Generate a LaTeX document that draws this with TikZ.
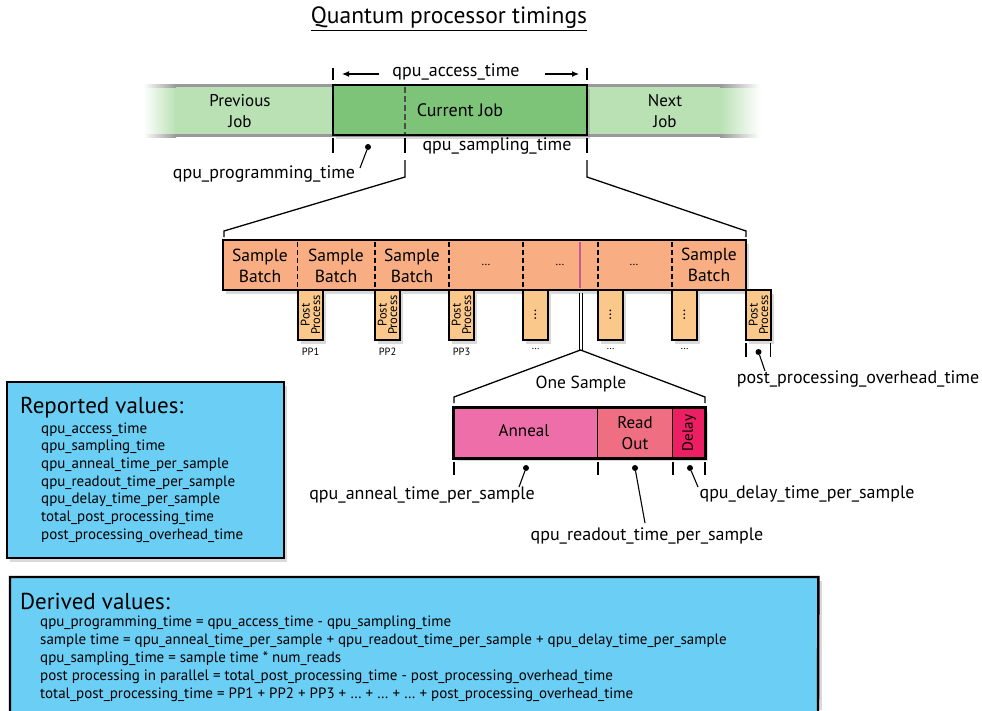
\documentclass[tikz,border=0pt]{standalone}
\usepackage{fontspec}
\usepackage{graphicx}
\setmainfont{PT Sans}
\usetikzlibrary{shadows,arrows.meta,calc}
\definecolor{bandgreen}{HTML}{B9E1B4}
\definecolor{jobgreen}{HTML}{7DC478}
\definecolor{batchorange}{HTML}{F8AD82}
\definecolor{ppfill}{HTML}{FBC88C}
\definecolor{annealpink}{HTML}{EE6EAA}
\definecolor{readpink}{HTML}{F06E82}
\definecolor{delayred}{HTML}{EC1E64}
\definecolor{infoblue}{HTML}{6ACEF5}
\definecolor{magline}{HTML}{C85A96}
\begin{document}
\begin{tikzpicture}[x=1pt,y=-1pt,
  lbl/.style={font=\fontsize{18}{21}\selectfont, inner sep=0pt},
  shad/.style={drop shadow={opacity=0.3, shadow xshift=3pt, shadow yshift=-4pt}},
  thickbox/.style={draw=black, line width=2.4pt, inner sep=0pt, outer sep=0pt},
  tickln/.style={line width=1.6pt},
  leader/.style={line width=1.1pt},
  bracketln/.style={line width=1.3pt},
  ldot/.style={circle, fill=black, inner sep=0pt, minimum size=6pt},
  ppb/.style={thickbox, fill=ppfill, minimum width=25pt, minimum height=50pt, shad},
  pptext/.style={rotate=90, align=center, font=\fontsize{12.5}{10.5}\selectfont, inner sep=0pt},
  pplab/.style={font=\fontsize{10.5}{10}\selectfont, inner sep=0pt},
  batchtxt/.style={align=center, font=\fontsize{17.5}{21}\selectfont, inner sep=0pt},
  divln/.style={line width=1.2pt, dash pattern=on 5pt off 3pt},
  reptxt/.style={font=\fontsize{15}{16}\selectfont, inner sep=0pt, anchor=base west},
  dertxt/.style={font=\fontsize{15}{16}\selectfont, inner sep=0pt, anchor=base west},
]
\useasboundingbox (0,0) rectangle (982,710);

% title
\node[font=\fontsize{23.5}{27}\selectfont, inner sep=0pt] (title) at (449,19) {\underline{Quantum processor timings}};

% job band
\shade[left color=white, right color=bandgreen] (143,85) rectangle (176,136);
\fill[bandgreen] (175,85) rectangle (721,136);
\shade[left color=bandgreen, right color=white] (720,85) rectangle (760,136);
\shade[left color=white, right color=gray!80] (143,84) rectangle (176,87);
\fill[gray!80] (175,84) rectangle (721,87);
\shade[left color=gray!80, right color=white] (720,84) rectangle (760,87);
\shade[left color=white, right color=gray!80] (143,134) rectangle (176,137);
\fill[gray!80] (175,134) rectangle (721,137);
\shade[left color=gray!80, right color=white] (720,134) rectangle (760,137);

\node[lbl, align=center, font=\fontsize{17}{21}\selectfont] (prev) at (240,111) {Previous\\Job};
\node[lbl, align=center, font=\fontsize{17}{21}\selectfont] (next) at (665,111) {Next\\Job};
\node[thickbox, fill=jobgreen, minimum width=254pt, minimum height=50pt, shad] (cur) at (460,110) {};
\node[lbl, font=\fontsize{18}{21}\selectfont] (curtxt) at (460,110) {Current Job};
\draw[gray!60!black, line width=1.3pt, dash pattern=on 6pt off 3pt] (cur.north west) ++(72,1.5) coordinate (dA) -- ($(cur.south west)+(72,-1.5)$) coordinate (dB);

% access time
\coordinate (aL1) at (333,68); \coordinate (aL2) at (333,80);
\coordinate (aR1) at (587,68); \coordinate (aR2) at (587,80);
\draw[tickln] (aL1) -- (aL2);
\draw[tickln] (aR1) -- (aR2);
\node[lbl] (acc) at (456,72) {qpu\_access\_time};
\coordinate (arrL0) at (379,74); \coordinate (arrL) at (342,74);
\coordinate (arrR0) at (545,74); \coordinate (arrR) at (579,74);
\draw[line width=1.2pt, -{Latex[length=7pt,width=6pt]}] (arrL0) -- (arrL);
\draw[line width=1.2pt, -{Latex[length=7pt,width=6pt]}] (arrR0) -- (arrR);

% ticks below job
\coordinate (bL1) at (333,138); \coordinate (bL2) at (333,153);
\coordinate (bM1) at (405,138); \coordinate (bM2) at (405,153);
\coordinate (bR1) at (587,138); \coordinate (bR2) at (587,153);
\draw[tickln] (bL1) -- (bL2);
\draw[tickln] (bM1) -- (bM2);
\draw[tickln] (bR1) -- (bR2);
\node[lbl] (samp) at (497,146) {qpu\_sampling\_time};
\node[ldot] (pdot) at (368,147) {};
\node[lbl] (prog) at (264,174) {qpu\_programming\_time};
\coordinate (pend) at (360,168);
\draw[leader] (pdot) -- (pend);

% bracket to sample batches
\coordinate (kL0) at (405,160); \coordinate (kL1) at (405,177);
\coordinate (kL2) at (224,231); \coordinate (kL3) at (224,237);
\coordinate (kR0) at (587,160); \coordinate (kR1) at (587,177);
\coordinate (kR2) at (746,231); \coordinate (kR3) at (746,237);
\draw[bracketln] (kL0) -- (kL1) -- (kL2) -- (kL3);
\draw[bracketln] (kR0) -- (kR1) -- (kR2) -- (kR3);

% sample batch bar
\node[thickbox, fill=batchorange, minimum width=523pt, minimum height=50pt, shad] (bar) at (484.5,265) {};
\foreach \xx in {297.5,375,449,523,598,672} {
  \draw[divln] (\xx,242) -- (\xx,288);
}
\draw[magline, line width=2pt] (580,242) -- (580,288);
\node[batchtxt] (sb1) at (260,266) {Sample\\Batch};
\node[batchtxt] (sb2) at (336,266) {Sample\\Batch};
\node[batchtxt] (sb3) at (412,266) {Sample\\Batch};
\node[batchtxt] (sb4) at (486,265) {\fontsize{12}{12}\selectfont …};
\node[batchtxt] (sb5) at (560,265) {\fontsize{12}{12}\selectfont …};
\node[batchtxt] (sb6) at (634,265) {\fontsize{12}{12}\selectfont …};
\node[batchtxt] (sb7) at (709,265) {Sample\\Batch};

% post process boxes
\node[ppb] (pp1) at (310.5,315) {};
\node[ppb] (pp2) at (387.5,315) {};
\node[ppb] (pp3) at (461.5,315) {};
\node[ppb] (pp4) at (535.5,315) {};
\node[ppb] (pp5) at (610.5,315) {};
\node[ppb] (pp6) at (684.5,315) {};
\node[ppb] (pp7) at (758.5,315) {};
\node[pptext] (ppt1) at (pp1) {Post\\Process};
\node[pptext] (ppt2) at (pp2) {Post\\Process};
\node[pptext] (ppt3) at (pp3) {Post\\Process};
\node[pptext, font=\fontsize{15}{15}\selectfont] (ppt4) at (pp4) {…};
\node[pptext, font=\fontsize{15}{15}\selectfont] (ppt5) at (pp5) {…};
\node[pptext, font=\fontsize{15}{15}\selectfont] (ppt6) at (pp6) {…};
\node[pptext] (ppt7) at (pp7) {Post\\Process};
\node[pplab] (pl1) at (310.5,351.5) {PP1};
\node[pplab] (pl2) at (387.5,351.5) {PP2};
\node[pplab] (pl3) at (461.5,351.5) {PP3};
\node[pplab] (pl4) at (535.5,349) {…};
\node[pplab] (pl5) at (610.5,349) {…};
\node[pplab] (pl6) at (684.5,349) {…};

% overhead ticks
\coordinate (oL1) at (746,343); \coordinate (oL2) at (746,357);
\coordinate (oR1) at (770.5,343); \coordinate (oR2) at (770.5,357);
\draw[tickln] (oL1) -- (oL2);
\draw[tickln] (oR1) -- (oR2);
\node[ldot] (odot) at (758.5,352) {};
\node[lbl] (ovh) at (858,379) {post\_processing\_overhead\_time};
\coordinate (oend) at (765,371);
\draw[leader] (odot) -- (oend);

% one sample bracket
\coordinate (sA) at (579,293); \coordinate (sB) at (579,350);
\coordinate (sC) at (582,293); \coordinate (sD) at (582,350);
\draw[line width=1pt] (sA) -- (sB);
\draw[line width=1pt] (sC) -- (sD);
\coordinate (sTop) at (580.5,350);
\coordinate (sL1) at (454,397); \coordinate (sL2) at (454,403);
\coordinate (sR1) at (705,397); \coordinate (sR2) at (705,403);
\draw[bracketln] (sL2) -- (sL1) -- (sTop) -- (sR1) -- (sR2);
\node[lbl, font=\fontsize{17.5}{21}\selectfont] (onesamp) at (581,384) {One Sample};

% one sample box
\fill[gray, opacity=0.3] (457,412) rectangle (708,461);
\node[draw, line width=1.6pt, fill=annealpink, minimum width=143.5pt, minimum height=49.5pt, inner sep=0pt] (ann) at (525.75,433) {};
\node[draw, line width=1.6pt, fill=readpink, minimum width=75pt, minimum height=49.5pt, inner sep=0pt] (rd) at (635,433) {};
\node[draw, line width=1.6pt, fill=delayred, minimum width=32.5pt, minimum height=49.5pt, inner sep=0pt] (dly) at (688.75,433) {};
\draw[line width=2.4pt] (ann.north west) rectangle (dly.south east);
\node[lbl, font=\fontsize{17}{21}\selectfont] (anntxt) at (524,431) {Anneal};
\node[lbl, align=center, font=\fontsize{17}{21}\selectfont] (rdtxt) at (635,433) {Read\\Out};
\node[pptext, font=\fontsize{15}{15}\selectfont] (dlytxt) at (689,433) {Delay};

% ticks below sample
\coordinate (t1a) at (454,462); \coordinate (t1b) at (454,475);
\coordinate (t2a) at (598,462); \coordinate (t2b) at (598,475);
\coordinate (t3a) at (673,462); \coordinate (t3b) at (673,475);
\coordinate (t4a) at (705,462); \coordinate (t4b) at (705,475);
\draw[tickln] (t1a) -- (t1b);
\draw[tickln] (t2a) -- (t2b);
\draw[tickln] (t3a) -- (t3b);
\draw[tickln] (t4a) -- (t4b);
\node[ldot] (adot) at (526,468) {};
\node[ldot] (rdot) at (635,468) {};
\node[ldot] (ddot) at (690,468) {};
\node[lbl] (annlab) at (422,495) {qpu\_anneal\_time\_per\_sample};
\node[lbl] (rdlab) at (647,536) {qpu\_readout\_time\_per\_sample};
\node[lbl] (dlylab) at (807,494) {qpu\_delay\_time\_per\_sample};
\coordinate (aend) at (519,487);
\coordinate (rend) at (645,523);
\coordinate (dend) at (698,487);
\draw[leader] (adot) -- (aend);
\draw[leader] (rdot) -- (rend);
\draw[leader] (ddot) -- (dend);

% reported values
\node[thickbox, fill=infoblue, minimum width=277pt, minimum height=176pt, shad] (rep) at (145.5,470) {};
\node[font=\fontsize{23}{26}\selectfont, inner sep=0pt, anchor=base west] (rephead) at (20,413) {Reported values:};
\node[reptxt] (r1) at (41,433) {qpu\_access\_time};
\node[reptxt] (r2) at (41,450.7) {qpu\_sampling\_time};
\node[reptxt] (r3) at (41,468.4) {qpu\_anneal\_time\_per\_sample};
\node[reptxt] (r4) at (41,486.1) {qpu\_readout\_time\_per\_sample};
\node[reptxt] (r5) at (41,503.8) {qpu\_delay\_time\_per\_sample};
\node[reptxt] (r6) at (41,521.5) {total\_post\_processing\_time};
\node[reptxt] (r7) at (41,539.2) {post\_processing\_overhead\_time};

% derived values
\fill[gray, opacity=0.3] (14,581) rectangle (822,710);
\node[fill=infoblue, minimum width=808pt, minimum height=140pt, inner sep=0pt, anchor=north west] (der) at (10,577) {};
\draw[line width=2.4pt] (10,712) -- (der.north west) -- (der.north east) -- (818,712);
\node[font=\fontsize{23}{26}\selectfont, inner sep=0pt, anchor=base west] (derhead) at (20,609) {Derived values:};
\node[dertxt] (d1) at (40,626.5) {qpu\_programming\_time = qpu\_access\_time - qpu\_sampling\_time};
\node[dertxt] (d2) at (40,644.5) {sample time = qpu\_anneal\_time\_per\_sample + qpu\_readout\_time\_per\_sample + qpu\_delay\_time\_per\_sample};
\node[dertxt] (d3) at (40,662.5) {qpu\_sampling\_time = sample time * num\_reads};
\node[dertxt] (d4) at (40,680.5) {post processing in parallel = total\_post\_processing\_time - post\_processing\_overhead\_time};
\node[dertxt] (d5) at (40,698.5) {total\_post\_processing\_time = PP1 + PP2 + PP3 + … + … + … + post\_processing\_overhead\_time};
\end{tikzpicture}
\end{document}
